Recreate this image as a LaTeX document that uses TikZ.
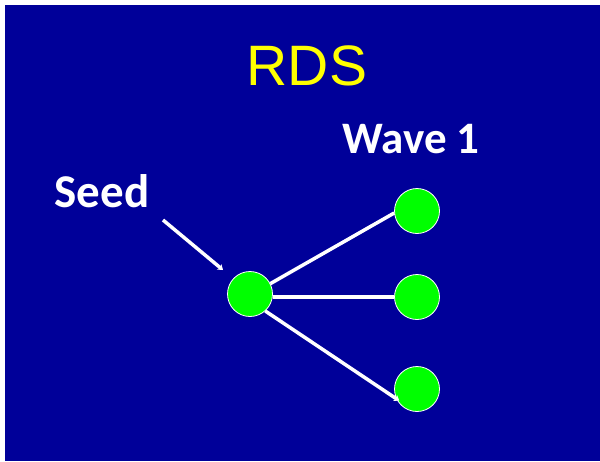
\documentclass[tikz,border=0pt]{standalone}
\usepackage{fontspec}
\setmainfont{Liberation Sans}
\newfontfamily\calib{Carlito}
\usetikzlibrary{arrows.meta}
\definecolor{bg}{RGB}{0,0,153}
\definecolor{dotgreen}{RGB}{0,255,0}
\definecolor{titley}{RGB}{255,255,0}
\begin{document}
\begin{tikzpicture}[x=1pt,y=-1pt,
  dot/.style={circle,fill=dotgreen,draw=white,line width=0.8pt,minimum size=45pt,inner sep=0pt},
  link/.style={draw=white,line width=3.5pt},
  lab/.style={text=white,font=\calib\bfseries\fontsize{45}{52}\selectfont,inner sep=0pt,anchor=base},
  tip/.style={-{Stealth[length=5pt,width=7pt]}}]
\useasboundingbox (0,0) rectangle (600,461);
\fill[white] (0,0) rectangle (600,461);
\fill[bg] (5,5) rectangle (600,461);
\node[text=titley,font=\fontsize{57}{64}\selectfont,inner sep=0pt,anchor=base] (title) at (307,85) {RDS};
\node[lab] (wave) at (411,153) {Wave 1};
\node[lab,font=\calib\bfseries\fontsize{47}{54}\selectfont] (seedlab) at (102,207) {Seed};
\node[dot] (s) at (250,294) {};
\node[dot] (w1) at (417,211) {};
\node[dot] (w2) at (417,297) {};
\node[dot] (w3) at (417,389) {};
\coordinate (a0) at (163,220);
\coordinate (a1) at (223,270);
\draw[link,tip] (a0) -- (a1);
\draw[link] (s.27) -- (w1.185);
\draw[link] (s.east |- w2.west) -- (w2.west);
\draw[link,tip] (s.-48) -- ([shift={(3,2)}]w3.205);
\end{tikzpicture}
\end{document}
